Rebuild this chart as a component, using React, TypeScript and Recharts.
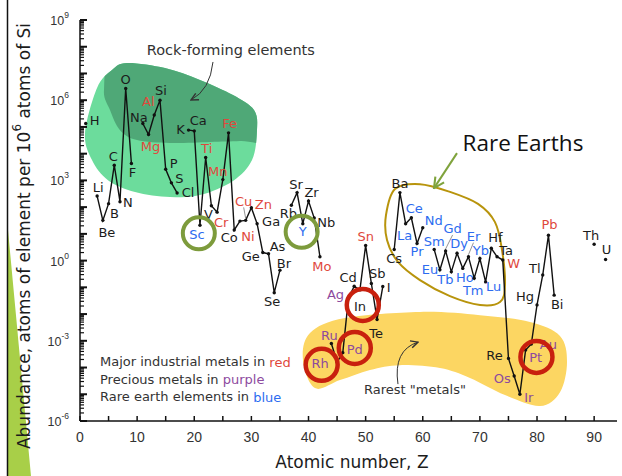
import React from 'react';
import { ComposedChart, Line, XAxis, YAxis, ReferenceArea, ReferenceDot } from 'recharts';

// ---------------- DATA ----------------
const ATOMIC_NUMBER = [
  1, 2, 3, 4, 5, 6, 7, 8, 9, 10, 11, 12, 13, 14, 15, 16, 17, 18, 19, 20,
  21, 22, 23, 24, 25, 26, 27, 28, 29, 30, 31, 32, 33, 34, 35, 36, 37, 38, 39, 40,
  41, 42, 43, 44, 45, 46, 47, 48, 49, 50, 51, 52, 53, 54, 55, 56, 57, 58, 59, 60,
  61, 62, 63, 64, 65, 66, 67, 68, 69, 70, 71, 72, 73, 74, 75, 76, 77, 78, 79, 80,
  81, 82, 83, 84, 85, 86, 87, 88, 89, 90, 91, 92,
];

const SYMBOLS = [
  'H', 'He', 'Li', 'Be', 'B', 'C', 'N', 'O', 'F', 'Ne', 'Na', 'Mg', 'Al', 'Si', 'P', 'S', 'Cl', 'Ar', 'K', 'Ca',
  'Sc', 'Ti', 'V', 'Cr', 'Mn', 'Fe', 'Co', 'Ni', 'Cu', 'Zn', 'Ga', 'Ge', 'As', 'Se', 'Br', 'Kr', 'Rb', 'Sr', 'Y', 'Zr',
  'Nb', 'Mo', 'Tc', 'Ru', 'Rh', 'Pd', 'Ag', 'Cd', 'In', 'Sn', 'Sb', 'Te', 'I', 'Xe', 'Cs', 'Ba', 'La', 'Ce', 'Pr', 'Nd',
  'Pm', 'Sm', 'Eu', 'Gd', 'Tb', 'Dy', 'Ho', 'Er', 'Tm', 'Yb', 'Lu', 'Hf', 'Ta', 'W', 'Re', 'Os', 'Ir', 'Pt', 'Au', 'Hg',
  'Tl', 'Pb', 'Bi', 'Po', 'At', 'Rn', 'Fr', 'Ra', 'Ac', 'Th', 'Pa', 'U',
];

// atoms of element per 10^6 atoms of Si (null = not plotted)
const ABUNDANCE: (number | null)[] = [
  1.35e5, null, 2.6e2, 3.2e1, 1.35e2, 3.7e3, 1.6e2, 2.75e6, 4.3e3, null,
  1.35e5, 5.2e4, 2.8e5, 1.0e6, 2.6e3, 8.1e2, 3.4e2, null, 7.6e4, 7.1e4,
  2.1e1, 7.2e3, 1.12e2, 6.5e1, 1.07e3, 6.0e4, 1.4e1, 3.0e1, 3.2e1, 9.5e1,
  2.4e1, 2.0, 1.8, 6.3e-2, 4.4e-1, null, 1.17e2, 3.5e2, 2.4e1, 1.7e2,
  3.9e1, 1.4, null, 7.9e-4, 1.6e-4, 3.6e-4, 4.0e-2, 1.1e-1, 8.0e-2, 3.7,
  1.4e-1, 6.3e-3, 1.07e-1, null, 2.6, 3.5e2, 2.4e1, 4.0e1, 4.4, 1.7e1,
  null, 2.6, 4.5e-1, 2.3, 3.8e-1, 1.9, 5.1e-1, 1.4, 2.2e-1, 1.2,
  1.6e-1, 2.9, 1.4, 1.05, 2.2e-4, 4.8e-5, 1.0e-5, 4.5e-4, 7.6e-4, 2.2e-2,
  2.9e-1, 8.9, 5.1e-2, null, null, null, null, null, null, 4.1,
  null, 1.1,
];

const INDUSTRIAL_METALS = ['Mg', 'Al', 'Ti', 'Cr', 'Mn', 'Fe', 'Ni', 'Cu', 'Zn', 'Mo', 'Sn', 'W', 'Pb'];
const PRECIOUS_METALS = ['Ru', 'Rh', 'Pd', 'Ag', 'Os', 'Ir', 'Pt', 'Au'];
const RARE_EARTH_ELEMENTS = ['Sc', 'Y', 'La', 'Ce', 'Pr', 'Nd', 'Sm', 'Eu', 'Gd', 'Tb', 'Dy', 'Ho', 'Er', 'Tm', 'Yb', 'Lu'];

const X_TICKS = [0, 5, 10, 15, 20, 25, 30, 35, 40, 45, 50, 55, 60, 65, 70, 75, 80, 85, 90];
const X_TICK_LABELS = [0, 10, 20, 30, 40, 50, 60, 70, 80, 90];
const Y_DECADE_EXPONENTS = [-6, -5, -4, -3, -2, -1, 0, 1, 2, 3, 4, 5, 6, 7, 8, 9];
const Y_LABEL_EXPONENTS = [-6, -3, 0, 3, 6, 9];
const Y_MINOR_MULTIPLIERS = [2, 3, 4, 5, 6, 7, 8, 9];

// ---------------- STYLE / LAYOUT ----------------
const X_DOMAIN: [number, number] = [0, 94];
const Y_DOMAIN: [number, number] = [1e-6, 1e9];
const FONT = 'DejaVu Sans';
const TICK_FONT = 'Liberation Sans';
const RED = '#e0483c';
const PURPLE = '#8d4a9e';
const BLUE = '#2d6cf0';
const INK = '#1c1c1c';

const LABEL_OFFSET: Record<string, [number, number]> = {
  H: [9, -3], Li: [1, -9], Be: [4, 12], B: [6, 10], C: [-1, -9], N: [8, 1], O: [0, -9], F: [1, 9],
  Na: [-4, -6], Al: [-6, -13], Mg: [2, 12], Si: [1, -10], P: [8, -6], S: [8, -4], Cl: [11, 0],
  K: [-8, -1], Ca: [4, -10], Sc: [-3, 9], Ti: [1, -9], V: [-3, 9], Cr: [4, 10], Mn: [-5, -8], Fe: [1, -9],
  Co: [-5, 8], Ni: [8, 15], Cu: [-2, -19], Zn: [12, -3], Ga: [14, -2], Ge: [-12, 4], As: [9, -7],
  Se: [-2, 9], Br: [4, -7], Rb: [-3, 8], Sr: [-1, -8], Y: [0, 8], Zr: [3, -8], Nb: [12, 4], Mo: [2, 10],
  Ru: [-2, -8], Rh: [-17, 1], Pd: [12, -3], Ag: [-13, -3], Cd: [-6, -9], In: [0, 17], Sn: [0, -9],
  Sb: [6, -10], Te: [-1, 14], I: [6, 1], Cs: [0, 9], Ba: [0, -9], La: [-1, 12], Ce: [3, -9], Pr: [0, 8],
  Nd: [11, -7], Sm: [0, -8], Eu: [-10, 0], Gd: [7, -22], Tb: [-6, 8], Dy: [2, -10], Ho: [2, 9],
  Er: [5, -20], Tm: [-1, 12], Yb: [1, -8], Lu: [8, 5], Hf: [4, -11], Ta: [9, -6], W: [11, 3],
  Re: [-14, -3], Os: [-12, 2], Ir: [9, 3], Pt: [10, 7], Au: [17, 1], Hg: [-12, -8], Tl: [-8, -6],
  Pb: [1, -11], Bi: [3, 9], Th: [-3, -9], U: [1, -10],
};
const LEADER_LABELS = ['Gd', 'Er', 'Cu'];

// annotation geometry in data space: [Z, log10(abundance)]
const GREEN_BLOB: [number, number][] = [
  [2.98, 6.46], [5.6, 7.13], [8.23, 7.39], [14.88, 7.2], [21.0, 6.76], [26.78, 6.19], [30.46, 5.63],
  [30.98, 4.88], [30.11, 3.76], [26.78, 2.98], [21.0, 2.45], [15.75, 2.38], [9.63, 2.57], [4.9, 3.01],
  [2.1, 3.76], [0.88, 4.77],
];
const DARK_GREEN_BLOB: [number, number][] = [
  [4.2, 6.38], [6.13, 7.58], [17.5, 7.69], [33.26, 6.76], [33.26, 4.59], [28.01, 4.47], [22.76, 4.44],
  [15.75, 4.4], [9.98, 4.51], [7.0, 4.88], [5.25, 5.63],
];
const YELLOW_BLOB: [number, number][] = [
  [39.03, -3.72], [40.26, -2.71], [46.39, -2.15], [59.51, -1.92], [70.02, -2.04], [78.77, -2.3],
  [84.02, -2.82], [85.25, -3.79], [84.02, -4.92], [80.52, -5.44], [74.39, -5.03], [68.26, -4.39],
  [63.01, -4.02], [56.01, -3.91], [50.76, -4.09], [45.51, -4.47], [41.13, -4.77],
];
const RARE_EARTH_LOOP: [number, number][] = [
  [53.56, 1.7], [55.14, 2.68], [59.51, 2.86], [64.76, 2.57], [69.67, 2.12], [72.64, 1.44], [73.87, 0.4],
  [74.39, -0.91], [73.52, -1.55], [70.02, -1.66], [64.76, -1.33], [59.51, -0.73], [55.66, -0.05], [53.74, 0.77],
];

const RED_CIRCLES: [number, number][] = [[49.5, 0.022], [48.1, 5.4e-4], [42.3, 1.26e-4], [79.9, 2.5e-4]];
const GREEN_CIRCLES: [number, number][] = [[20.8, 10.5], [38.8, 12.0]];

const rows = ATOMIC_NUMBER.map((z, i) => ({ z, v: ABUNDANCE[i], sym: SYMBOLS[i] }));

const colorFor = (s: string) =>
  INDUSTRIAL_METALS.includes(s) ? RED : PRECIOUS_METALS.includes(s) ? PURPLE : RARE_EARTH_ELEMENTS.includes(s) ? BLUE : INK;

const Y_TICKS: number[] = [];
Y_DECADE_EXPONENTS.forEach((e) => {
  Y_TICKS.push(Number(`1e${e}`));
  if (e < 9) Y_MINOR_MULTIPLIERS.forEach((m) => Y_TICKS.push(Number(`${m}e${e}`)));
});
const Y_DECADES = Y_DECADE_EXPONENTS.map((e) => Number(`1e${e}`));

const expOf = (v: number) => {
  const l = Math.log10(v);
  return Math.abs(l - Math.round(l)) < 1e-6 ? Math.round(l) : null;
};

function smoothClosed(pts: [number, number][]) {
  const n = pts.length;
  let d = `M${pts[0][0]},${pts[0][1]}`;
  for (let i = 0; i < n; i++) {
    const p0 = pts[(i - 1 + n) % n], p1 = pts[i], p2 = pts[(i + 1) % n], p3 = pts[(i + 2) % n];
    const c1 = [p1[0] + (p2[0] - p0[0]) / 6, p1[1] + (p2[1] - p0[1]) / 6];
    const c2 = [p2[0] - (p3[0] - p1[0]) / 6, p2[1] - (p3[1] - p1[1]) / 6];
    d += ` C${c1[0]},${c1[1]} ${c2[0]},${c2[1]} ${p2[0]},${p2[1]}`;
  }
  return d + ' Z';
}

// ---------------- TICKS ----------------
const BottomTick = (p: any) => {
  const { x, y, payload } = p;
  const v = payload.value;
  return (
    <g>
      <line x1={x} x2={x} y1={y} y2={y - 5} stroke="#111" strokeWidth={1.5} />
      {X_TICK_LABELS.includes(v) && (
        <text x={x} y={y + 16} textAnchor="middle" dominantBaseline="central" fontSize={14} fontFamily={TICK_FONT} fill="#333">{v}</text>
      )}
    </g>
  );
};
const TopTick = (p: any) => {
  const { x, y } = p;
  return <line x1={x} x2={x} y1={y} y2={y + 5} stroke="#111" strokeWidth={1.5} />;
};
const LeftTick = (p: any) => {
  const { x, y, payload } = p;
  const e = expOf(payload.value);
  const major = e !== null;
  return (
    <g>
      <line x1={x} x2={x + (major ? 7 : 4)} y1={y} y2={y} stroke="#111" strokeWidth={major ? 2 : 1.2} />
      {major && Y_LABEL_EXPONENTS.includes(e as number) && (
        <text x={x - 11} y={y + 1} textAnchor="end" dominantBaseline="central" fontSize={12.5} fontFamily={TICK_FONT} fill="#333">
          10<tspan dy={-6} fontSize={8.5}>{e}</tspan>
        </text>
      )}
    </g>
  );
};
const RightTick = (p: any) => {
  const { x, y } = p;
  return <line x1={x} x2={x - 7} y1={y} y2={y} stroke="#111" strokeWidth={2} />;
};

// ---------------- POINTS + LABELS ----------------
const renderDot = (p: any) => {
  const { cx, cy, payload, index } = p;
  if (cx == null || cy == null || payload == null || payload.v == null) return <g key={`d${index}`} />;
  const sym = payload.sym as string;
  const off = LABEL_OFFSET[sym] || [0, -9];
  const lx = cx + off[0];
  const ly = cy + off[1];
  return (
    <g key={`d${index}`}>
      <circle cx={cx} cy={cy} r={1.7} fill="#111" />
      {LEADER_LABELS.includes(sym) && (
        <line x1={lx} y1={ly + 6} x2={cx} y2={cy - 2} stroke="#777" strokeWidth={0.8} />
      )}
      <text x={lx} y={ly} textAnchor="middle" dominantBaseline="central" fontSize={13} fontFamily={FONT} fill={colorFor(sym)}>
        {sym}
      </text>
    </g>
  );
};

// ---------------- ANNOTATIONS (positioned from the plot box given by the library) ----------------
const Annotations = (props: any) => {
  const { x, y, width, height } = props;
  const lo = Math.log10(Y_DOMAIN[0]);
  const hi = Math.log10(Y_DOMAIN[1]);
  const P = (z: number, lg: number): [number, number] => [
    x + ((z - X_DOMAIN[0]) / (X_DOMAIN[1] - X_DOMAIN[0])) * width,
    y + ((hi - lg) / (hi - lo)) * height,
  ];
  const map = (pts: [number, number][]) => pts.map(([a, b]) => P(a, b));
  const rock = P(26.4, 7.88);
  const rockA0 = P(23.28, 7.43), rockA1 = P(22.76, 6.38), rockA2 = P(19.43, 6.01);
  const re = P(77.54, 4.4);
  const reA0 = P(65.99, 4.02), reA1 = P(61.97, 2.71);
  const rm = P(58.64, -4.84);
  const rmA0 = P(55.66, -4.62), rmA1 = P(54.79, -3.35), rmA2 = P(59.16, -3.05);
  const lg1 = P(3.5, -3.78), lg2 = P(3.5, -4.43), lg3 = P(3.5, -5.09);
  const xt = P(47.6, -6);
  return (
    <g>
      <defs>
        <clipPath id="greenClip"><path d={smoothClosed(map(GREEN_BLOB))} /></clipPath>
        <marker id="ahDark" viewBox="0 0 10 10" refX="9" refY="5" markerWidth="9" markerHeight="9" markerUnits="userSpaceOnUse" orient="auto">
          <path d="M1,1 L9,5 L1,9" fill="none" stroke="#333" strokeWidth="1.6" />
        </marker>
        <marker id="ahGreen" viewBox="0 0 10 10" refX="9" refY="5" markerWidth="13" markerHeight="13" markerUnits="userSpaceOnUse" orient="auto">
          <path d="M1,1 L9,5 L1,9" fill="none" stroke="#7fa33c" strokeWidth="1.6" />
        </marker>
      </defs>
      <path d={smoothClosed(map(GREEN_BLOB))} fill="#6cdc9c" />
      <path d={smoothClosed(map(DARK_GREEN_BLOB))} fill="#4fa877" clipPath="url(#greenClip)" />
      <path d={smoothClosed(map(YELLOW_BLOB))} fill="#fcd662" />
      <path d={smoothClosed(map(RARE_EARTH_LOOP))} fill="none" stroke="#b8940c" strokeWidth={2} />

      <text x={rock[0]} y={rock[1]} textAnchor="middle" dominantBaseline="central" fontSize={14.5} fontFamily={FONT} fill="#333">Rock-forming elements</text>
      <path d={`M${rockA0[0]},${rockA0[1]} Q${rockA1[0]},${rockA1[1]} ${rockA2[0]},${rockA2[1]}`} fill="none" stroke="#333" strokeWidth={1} markerEnd="url(#ahDark)" />

      <text x={re[0]} y={re[1]} textAnchor="middle" dominantBaseline="central" fontSize={22.5} fontFamily="Open Sans" fill="#111">Rare Earths</text>
      <line x1={reA0[0]} y1={reA0[1]} x2={reA1[0]} y2={reA1[1]} stroke="#7fa33c" strokeWidth={2} markerEnd="url(#ahGreen)" />

      <text x={rm[0]} y={rm[1]} textAnchor="middle" dominantBaseline="central" fontSize={13} fontFamily={FONT} fill="#333">Rarest "metals"</text>
      <path d={`M${rmA0[0]},${rmA0[1]} Q${rmA1[0]},${rmA1[1]} ${rmA2[0]},${rmA2[1]}`} fill="none" stroke="#333" strokeWidth={1} markerEnd="url(#ahDark)" />

      <text x={lg1[0]} y={lg1[1]} dominantBaseline="central" fontSize={13} fontFamily={FONT} fill="#333">
        Major industrial metals in <tspan fill={RED}>red</tspan>
      </text>
      <text x={lg2[0]} y={lg2[1]} dominantBaseline="central" fontSize={13} fontFamily={FONT} fill="#333">
        Precious metals in <tspan fill={PURPLE}>purple</tspan>
      </text>
      <text x={lg3[0]} y={lg3[1]} dominantBaseline="central" fontSize={13} fontFamily={FONT} fill="#333">
        Rare earth elements in <tspan fill={BLUE}>blue</tspan>
      </text>

      <text x={xt[0]} y={xt[1] + 41} textAnchor="middle" dominantBaseline="central" fontSize={17} fontFamily={FONT} fill={INK}>Atomic number, Z</text>
      <text transform={`translate(${x - 56},${y + 216}) rotate(-90)`} textAnchor="middle" dominantBaseline="central" fontSize={17} fontFamily={FONT} fill={INK}>
        Abundance, atoms of element per 10<tspan dy={-7} fontSize={12}>6</tspan><tspan dy={7}> atoms of Si</tspan>
      </text>
    </g>
  );
};

export default function App() {
  return (
    <div style={{ position: 'absolute', left: 0, top: 0, width: 622, height: 476, background: '#fff' }}>
      <svg width={622} height={476} style={{ position: 'absolute', left: 0, top: 0 }}>
        <polygon points="8,230 8,476 31,476" fill="#a8cf48" />
        <line x1={7.5} y1={0} x2={7.5} y2={476} stroke="#111" strokeWidth={1.5} />
      </svg>
      <div style={{ position: 'absolute', left: 0, top: 0 }}>
        <ComposedChart width={622} height={476} data={rows} margin={{ top: 20, right: 5, bottom: 0, left: 0 }}>
          <XAxis xAxisId="b" type="number" dataKey="z" domain={X_DOMAIN} ticks={X_TICKS} interval={0} allowDataOverflow
            height={55} tickSize={0} tickMargin={0} tickLine={false} axisLine={{ stroke: '#111', strokeWidth: 1.5 }} tick={BottomTick} />
          <XAxis xAxisId="t" orientation="top" type="number" dataKey="z" domain={X_DOMAIN} ticks={X_TICKS} interval={0} allowDataOverflow
            height={0} tickSize={0} tickMargin={0} tickLine={false} axisLine={{ stroke: '#111', strokeWidth: 1.5 }} tick={TopTick} />
          <YAxis yAxisId="l" type="number" scale="log" domain={Y_DOMAIN} ticks={Y_TICKS} interval={0} allowDataOverflow
            width={80} tickSize={0} tickMargin={0} tickLine={false} axisLine={{ stroke: '#111', strokeWidth: 1.5 }} tick={LeftTick} />
          <YAxis yAxisId="r" orientation="right" type="number" scale="log" domain={Y_DOMAIN} ticks={Y_DECADES} interval={0} allowDataOverflow
            width={0} tickSize={0} tickMargin={0} tickLine={false} axisLine={{ stroke: '#111', strokeWidth: 1.5 }} tick={RightTick} />

          <ReferenceArea xAxisId="b" yAxisId="l" x1={X_DOMAIN[0]} x2={X_DOMAIN[1]} y1={Y_DOMAIN[0]} y2={Y_DOMAIN[1]}
            ifOverflow="visible" shape={Annotations} />

          <Line xAxisId="b" yAxisId="l" dataKey="v" stroke="#111" strokeWidth={1.4} isAnimationActive={false}
            connectNulls={false} dot={renderDot} activeDot={false} />

          {RED_CIRCLES.map(([z, v], i) => (
            <ReferenceDot key={`rc${i}`} xAxisId="b" yAxisId="l" x={z} y={v} r={16} fill="none" stroke="#c8200e" strokeWidth={4.5} ifOverflow="visible" />
          ))}
          {GREEN_CIRCLES.map(([z, v], i) => (
            <ReferenceDot key={`gc${i}`} xAxisId="b" yAxisId="l" x={z} y={v} r={16} fill="none" stroke="#7d9b3c" strokeWidth={4} ifOverflow="visible" />
          ))}
        </ComposedChart>
      </div>
    </div>
  );
}
